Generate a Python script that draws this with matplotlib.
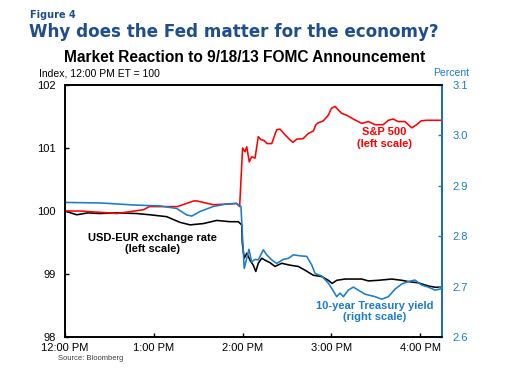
import numpy as np
import matplotlib
matplotlib.use("Agg")
import matplotlib.pyplot as plt
from matplotlib.ticker import FormatStrFormatter

# minutes after 12:00 PM ET
sp_t = [0, 10, 30, 35, 53, 57, 76, 87, 89, 100, 110, 116, 118, 120, 121.6, 122.8,
        124.5, 126.1, 128.4, 130.6, 132.5, 134.5, 136.5, 139.7, 143, 145.3, 148.6,
        152, 154, 156.6, 161, 164.4, 167.8, 169.5, 171.1, 174.5, 177.9, 180,
        182.5, 184.8, 187, 190.3, 194.8, 200.5, 205, 209.5, 215, 218.5, 221.8,
        225, 229.7, 232, 234.3, 237.6, 240.5, 244, 255]
sp_val = [100.00, 100.00, 99.97, 99.96, 100.02, 100.07, 100.07, 100.16, 100.16,
          100.10, 100.11, 100.12, 100.07, 101.00, 100.94, 101.02, 100.78, 100.86,
          100.84, 101.18, 101.13, 101.12, 101.07, 101.07, 101.29, 101.30, 101.21,
          101.13, 101.09, 101.14, 101.15, 101.23, 101.27, 101.37, 101.40, 101.43,
          101.52, 101.63, 101.66, 101.60, 101.55, 101.52, 101.46, 101.39, 101.42,
          101.37, 101.37, 101.44, 101.46, 101.42, 101.42, 101.37, 101.32, 101.37,
          101.43, 101.44, 101.44]

fx_t = [0, 7.9, 15.5, 23.6, 34.9, 48.4, 57.4, 68.7, 77.7, 84.5, 93.4, 102.5,
        111.5, 117.1, 119.4, 119.8, 121.1, 122.8, 125, 127.2, 128.9, 130.6, 132.9,
        135.1, 138.5, 141.9, 146.4, 152, 157.6, 162.2, 167.8, 173.4, 177.9, 180.5,
        183.6, 189.2, 200.5, 205, 211.7, 220.7, 227.5, 231.9, 238.7, 245.5, 250, 255]
fx_val = [100.00, 99.94, 99.97, 99.96, 99.97, 99.96, 99.94, 99.91, 99.82, 99.78,
          99.80, 99.85, 99.83, 99.83, 99.78, 99.49, 99.25, 99.33, 99.22, 99.14,
          99.04, 99.17, 99.25, 99.22, 99.18, 99.12, 99.17, 99.14, 99.12, 99.06,
          98.98, 98.96, 98.90, 98.85, 98.90, 98.92, 98.92, 98.89, 98.90, 98.92,
          98.90, 98.88, 98.86, 98.81, 98.79, 98.79]

ty_t = [0, 23.6, 46.1, 64.2, 75.5, 82.3, 85.7, 91.2, 100.2, 109.3, 116, 117.1,
        118.9, 119.8, 121.1, 122.8, 124.3, 126.1, 128.4, 130.6, 134, 136.3, 139.7,
        143, 147.5, 150.9, 154.3, 158.8, 163.3, 166.7, 169, 173.4, 177.9, 180.5,
        183.6, 185.8, 188.1, 191.4, 194.8, 198.2, 202.7, 209.5, 214, 218.5, 223,
        227.5, 231.9, 236.4, 241, 245.5, 250, 255]
ty_val = [2.867, 2.866, 2.862, 2.860, 2.855, 2.842, 2.840, 2.849, 2.859, 2.864,
          2.865, 2.862, 2.859, 2.806, 2.736, 2.756, 2.774, 2.749, 2.754, 2.753,
          2.773, 2.763, 2.753, 2.746, 2.754, 2.756, 2.763, 2.761, 2.760, 2.743,
          2.726, 2.721, 2.707, 2.695, 2.680, 2.687, 2.680, 2.693, 2.699, 2.693,
          2.685, 2.680, 2.675, 2.680, 2.695, 2.705, 2.710, 2.713, 2.703, 2.699,
          2.693, 2.696]

x_ticks = [0, 60, 120, 180, 240]
x_labels = ["12:00 PM", "1:00 PM", "2:00 PM", "3:00 PM", "4:00 PM"]

RED = "#ff0000"
BLUE = "#1b7dc9"
NAVY = "#1f4e8c"
W, H = 510, 380

plt.rcParams['font.family'] = ['Liberation Sans', 'DejaVu Sans']

fig = plt.figure(figsize=(5.1, 3.8), dpi=100)
ax = fig.add_axes([65 / W, 1 - 337 / H, (442.4 - 65) / W, (337 - 85) / H])
ax2 = ax.twinx()

ax.plot(sp_t, sp_val, color=RED, lw=1.15, zorder=3)
ax.plot(fx_t, fx_val, color="black", lw=1.15, zorder=2)
ax2.plot(ty_t, ty_val, color=BLUE, lw=1.15)

ax.set_xlim(0, 255)
ax.set_ylim(98, 102)
ax.set_yticks([98, 99, 100, 101, 102])
ax.set_xticks(x_ticks)
ax.set_xticklabels(x_labels)
ax2.set_ylim(2.6, 3.1)
ax2.set_yticks(np.arange(2.6, 3.11, 0.1))
ax2.yaxis.set_major_formatter(FormatStrFormatter('%.1f'))

for s in ax.spines.values():
    s.set_linewidth(1.2)
for s in ax2.spines.values():
    s.set_linewidth(1.2)
ax2.spines['right'].set_color(BLUE)

ax.tick_params(axis='y', direction='in', length=3, width=1, labelsize=8, pad=6.5)
ax.tick_params(axis='x', direction='in', length=3, width=1, labelsize=8, pad=4.5)
ax2.tick_params(axis='y', direction='in', length=3, width=1, labelsize=8, pad=7,
                colors=BLUE)

# series labels
ax.text(0.846, 0.79, "S&P 500\n(left scale)", transform=ax.transAxes, color=RED,
        fontsize=8, fontweight='bold', ha='center', va='center', linespacing=1.15)
ax.text(0.233, 0.37, "USD-EUR exchange rate\n(left scale)", transform=ax.transAxes,
        fontsize=8, fontweight='bold', ha='center', va='center', linespacing=1.15)
ax.text(0.82, 0.10, "10-year Treasury yield\n(right scale)", transform=ax.transAxes,
        color=BLUE, fontsize=8, fontweight='bold', ha='center', va='center',
        linespacing=1.15)

fig.text(30 / W, 1 - 15 / H, "Figure 4", color=NAVY, fontsize=7, fontweight='bold',
         family='DejaVu Sans', va='center')
fig.text(29 / W, 1 - 32 / H, "Why does the Fed matter for the economy?", color=NAVY,
         fontsize=12.1, fontweight='bold', family='DejaVu Sans', va='center')
fig.text(245 / W, 1 - 57 / H, "Market Reaction to 9/18/13 FOMC Announcement",
         fontsize=11.2, fontweight='bold', ha='center', va='center')
fig.text(39 / W, 1 - 74 / H, "Index, 12:00 PM ET = 100", fontsize=7.5, va='center')
fig.text(469 / W, 1 - 73 / H, "Percent", fontsize=7.5, color=BLUE, ha='right',
         va='center')
fig.text(58 / W, 1 - 358 / H, "Source: Bloomberg", fontsize=5.5, color="#404040",
         va='center')

fig.savefig("out.png", dpi=100)
